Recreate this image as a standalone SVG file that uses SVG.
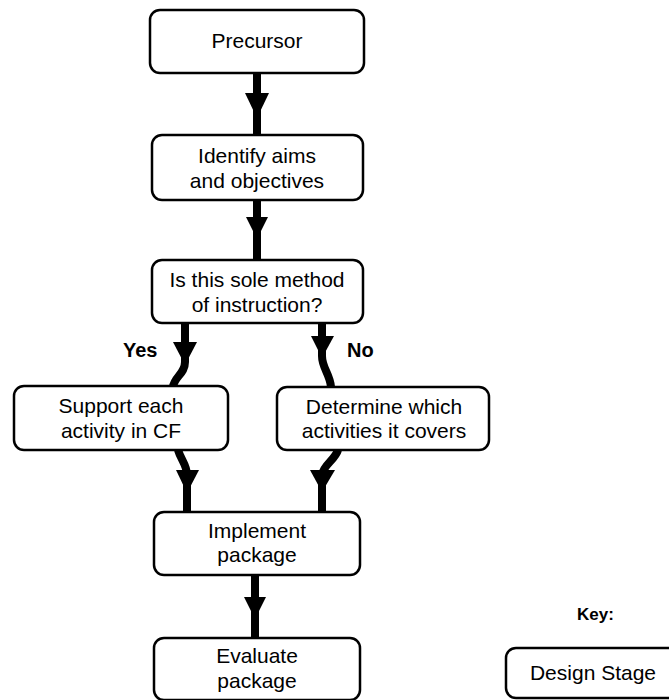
<svg xmlns="http://www.w3.org/2000/svg" width="669" height="700" viewBox="0 0 669 700">
<style>
.box{fill:#fff;stroke:#000;stroke-width:2.5}
.t{font-family:"Liberation Sans",Arial,sans-serif;font-size:21px;text-anchor:middle;fill:#000}
.b{font-family:"Liberation Sans",Arial,sans-serif;font-weight:bold;font-size:20px;fill:#000}
.ln{fill:none;stroke:#000;stroke-width:8}
.hd{fill:#000}
</style>
<g id="connectors">
<path class="ln" d="M257,73 V136"/><polygon class="hd" points="245,93 269,93 257,118"/>
<path class="ln" d="M257,200 V260"/><polygon class="hd" points="246,217 268,217 257,239"/>
<path class="ln" d="M185,323 V362 C185,374 174,377 173,387"/><polygon class="hd" points="173,342 197,342 185,365"/>
<path class="ln" d="M322,323 V356 C322,368 330,374 331,387"/><polygon class="hd" points="311,336 334,336 322,358"/>
<path class="ln" d="M178,450 C181,460 187,465 187,475 V512"/><polygon class="hd" points="176,470 199,470 187,493"/>
<path class="ln" d="M338,450 C335,460 323,465 322,475 V512"/><polygon class="hd" points="310,470 335,470 322,492"/>
<path class="ln" d="M255,575 V638"/><polygon class="hd" points="244,597 266,597 255,619"/>
</g>
<g id="precursor"><rect class="box" x="150" y="10" width="214" height="63" rx="10"/><text class="t" x="257" y="48">Precursor</text></g>
<g id="identify"><rect class="box" x="152" y="135" width="211" height="65" rx="10"/><text class="t" x="257" y="163">Identify aims</text><text class="t" x="257" y="188">and objectives</text></g>
<g id="question"><rect class="box" x="152" y="260" width="211" height="63" rx="10"/><text class="t" x="257" y="287">Is this sole method</text><text class="t" x="257" y="312">of instruction?</text></g>
<g id="yes"><text class="b" x="123" y="357">Yes</text></g>
<g id="no"><text class="b" x="347" y="357">No</text></g>
<g id="support"><rect class="box" x="14" y="386" width="214" height="64" rx="10"/><text class="t" x="121" y="413">Support each</text><text class="t" x="121" y="438">activity in CF</text></g>
<g id="determine"><rect class="box" x="277" y="387" width="212" height="63" rx="10"/><text class="t" x="384" y="414">Determine which</text><text class="t" x="384" y="438">activities it covers</text></g>
<g id="implement"><rect class="box" x="154" y="512" width="206" height="63" rx="10"/><text class="t" x="257" y="538">Implement</text><text class="t" x="257" y="562">package</text></g>
<g id="evaluate"><rect class="box" x="154" y="638" width="206" height="62" rx="10"/><text class="t" x="257" y="663">Evaluate</text><text class="t" x="257" y="688">package</text></g>
<g id="key"><text class="b" x="577" y="620" style="font-size:17px">Key:</text><rect class="box" x="506" y="648" width="190" height="50" rx="10"/><text class="t" x="593" y="680">Design Stage</text></g>
</svg>
